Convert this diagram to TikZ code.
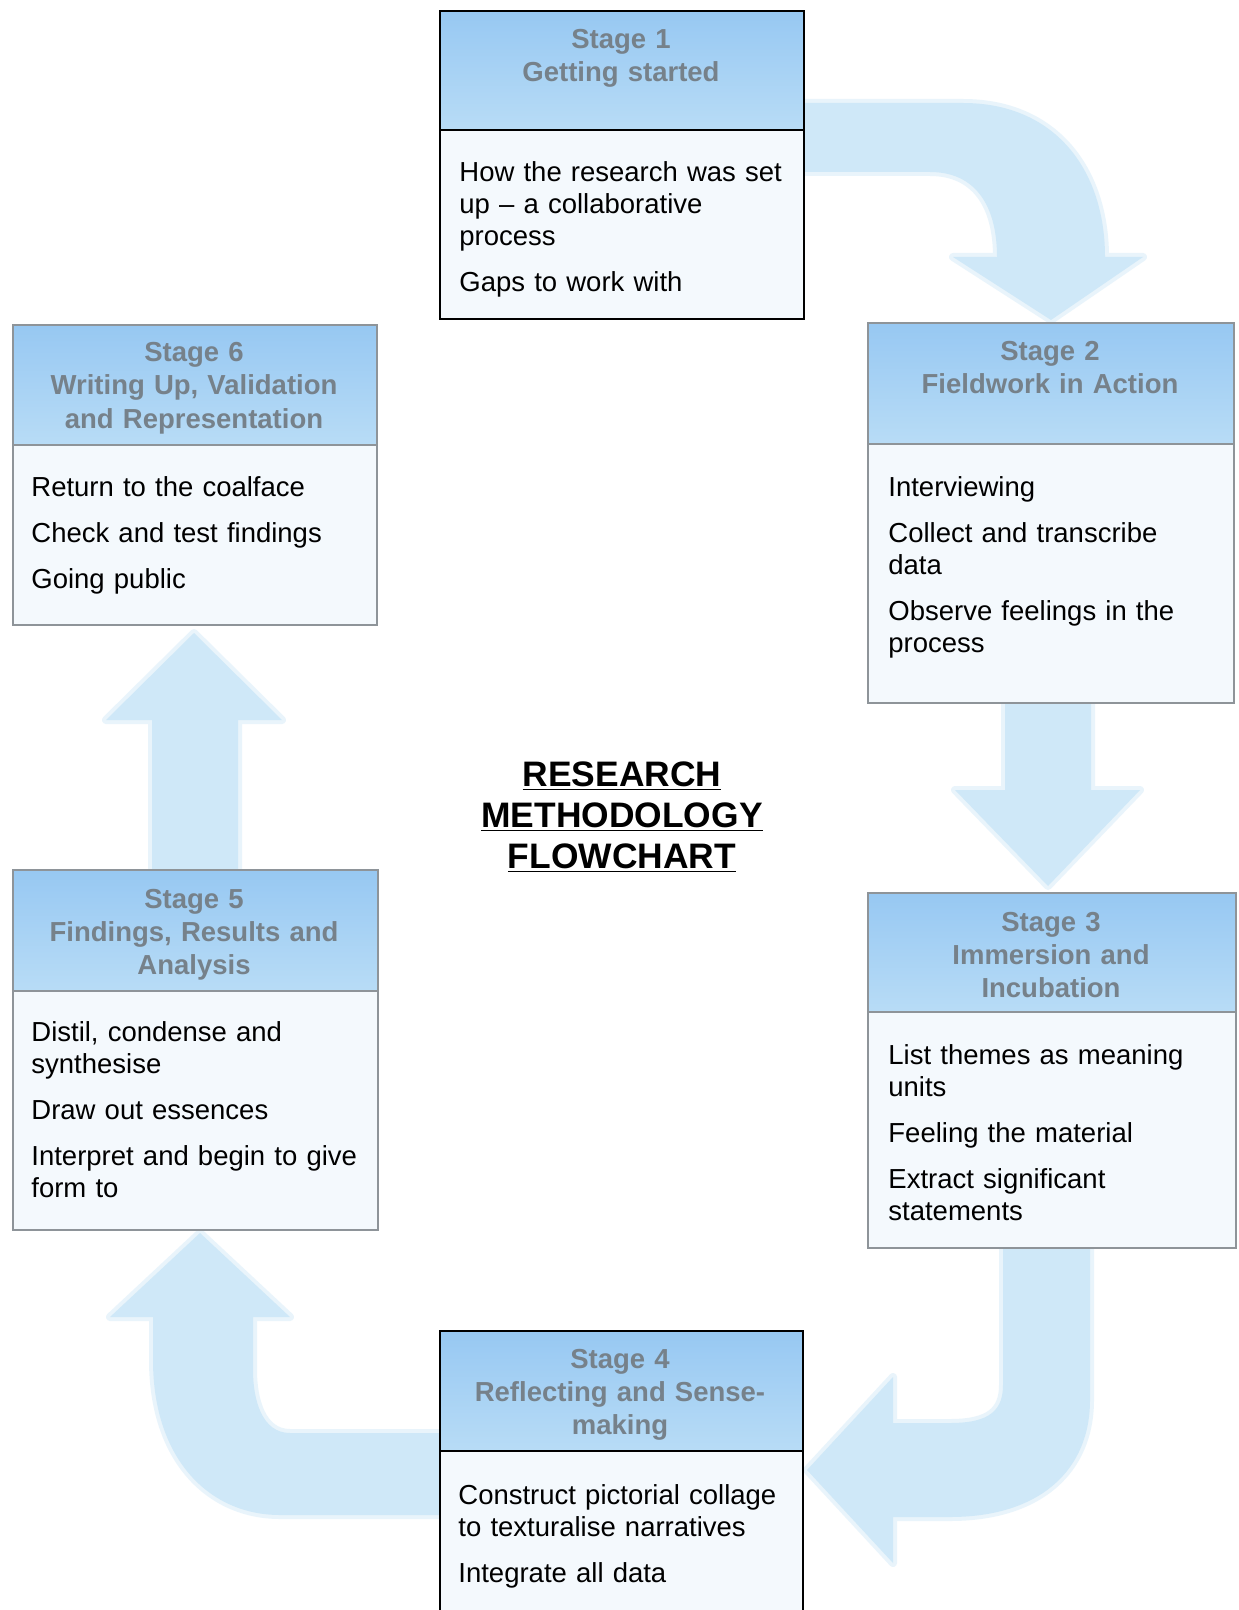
\documentclass[tikz,border=0pt]{standalone}
\usepackage{fontspec}
\setmainfont{Liberation Sans}
\definecolor{hdrtop}{HTML}{97C8F2}
\definecolor{hdrbot}{HTML}{B8DCF6}
\definecolor{hdrtext}{HTML}{76818A}
\definecolor{bodyfill}{HTML}{F4F9FD}
\definecolor{arrowfill}{HTML}{CFE8F8}
\definecolor{softborder}{HTML}{8E9499}
\begin{document}
\begin{tikzpicture}[x=0.5pt,y=-0.5pt,
  hdrbox/.style={anchor=north west, inner sep=0pt, top color=hdrtop, bottom color=hdrbot, draw=#1, line width=1.1pt},
  bodybox/.style={anchor=north west, inner sep=0pt, fill=bodyfill, draw=#1, line width=1.1pt},
  hdrtxt/.style={anchor=base, inner sep=0pt, text width=180pt, align=center, text=hdrtext, font=\bfseries\fontsize{13.75pt}{16.5pt}\selectfont},
  bodytxt/.style={anchor=base west, inner sep=0pt, text width=190pt, align=left, font=\fontsize{13.75pt}{16pt}\selectfont},
  arrowhalo/.style={draw=arrowfill, draw opacity=0.45, line width=4pt, line join=round},
  blockarrow/.style={fill=arrowfill, line join=round}
]
\useasboundingbox (0,0) rectangle (1238,1610);
\fill[white] (0,0) rectangle (1238,1610);

% block arrows (behind boxes)
\def\arrowA{(803,103) -- (963,103) .. controls (1055,103) and (1105,170) .. (1105,257)
  -- (1143,257) -- (1051,320) -- (953,257) -- (997,257)
  .. controls (997,205) and (975,172) .. (930,172) -- (803,172) -- cycle}
\def\arrowB{(1005,702) -- (1091,702) -- (1091,790) -- (1140,790) -- (1048,886)
  -- (955,790) -- (1005,790) -- cycle}
\def\arrowC{(1003,1247) -- (1003,1385) .. controls (1003,1410) and (990,1423) .. (950,1423)
  -- (893,1423) -- (893,1377) -- (807,1470) -- (893,1563) -- (893,1517) -- (950,1517)
  .. controls (1040,1517) and (1090,1470) .. (1090,1400) -- (1090,1247) -- cycle}
\def\arrowD{(439,1433) -- (290,1433) .. controls (262,1433) and (253,1400) .. (253,1370)
  -- (253,1317) -- (290,1317) -- (200,1233) -- (110,1317) -- (153,1317) -- (153,1360)
  .. controls (153,1460) and (210,1515) .. (280,1515) -- (439,1515) -- cycle}
\def\arrowE{(152,869) -- (152,720) -- (106,720) -- (194,633) -- (282,720)
  -- (238,720) -- (238,869) -- cycle}
\path[arrowhalo] \arrowA; \path[blockarrow] \arrowA;
\path[arrowhalo] \arrowB; \path[blockarrow] \arrowB;
\path[arrowhalo] \arrowC; \path[blockarrow] \arrowC;
\path[arrowhalo] \arrowD; \path[blockarrow] \arrowD;
\path[arrowhalo] \arrowE; \path[blockarrow] \arrowE;

% Stage 1
\node[hdrbox=black, minimum width=182pt, minimum height=59.5pt] (s1h) at (439,10) {};
\node[bodybox=black, minimum width=182pt, minimum height=94.5pt] (s1b) at (439,129) {};
\node[hdrtxt] (s1ht) at (621,49) {Stage 1\\Getting started};
\node[bodytxt] (s1bt) at (459,182) {How the research was set\\up -- a collaborative\\process\\[7pt]Gaps to work with};

% Stage 2
\node[hdrbox=softborder, minimum width=183pt, minimum height=60.5pt] (s2h) at (867,322) {};
\node[bodybox=softborder, minimum width=183pt, minimum height=129.5pt] (s2b) at (867,443) {};
\node[hdrtxt] (s2ht) at (1050,361) {Stage 2\\Fieldwork in Action};
\node[bodytxt] (s2bt) at (888,496) {Interviewing\\[7pt]Collect and transcribe\\data\\[7pt]Observe feelings in the\\process};

% Stage 3
\node[hdrbox=softborder, minimum width=184pt, minimum height=59.5pt] (s3h) at (867,892) {};
\node[bodybox=softborder, minimum width=184pt, minimum height=118pt] (s3b) at (867,1011) {};
\node[hdrtxt] (s3ht) at (1051,931) {Stage 3\\Immersion and\\Incubation};
\node[bodytxt] (s3bt) at (888,1064) {List themes as meaning\\units\\[7pt]Feeling the material\\[7pt]Extract significant\\statements};

% Stage 4
\node[hdrbox=black, minimum width=181.5pt, minimum height=60pt] (s4h) at (439,1330) {};
\node[bodybox=black, minimum width=181.5pt, minimum height=90pt] (s4b) at (439,1450) {};
\node[hdrtxt] (s4ht) at (620,1368) {Stage 4\\Reflecting and Sense-\\making};
\node[bodytxt] (s4bt) at (458,1504) {Construct pictorial collage\\to texturalise narratives\\[7pt]Integrate all data};

% Stage 5
\node[hdrbox=softborder, minimum width=182.5pt, minimum height=60.5pt] (s5h) at (12,869) {};
\node[bodybox=softborder, minimum width=182.5pt, minimum height=119.5pt] (s5b) at (12,990) {};
\node[hdrtxt] (s5ht) at (194,908) {Stage 5\\Findings, Results and\\Analysis};
\node[bodytxt] (s5bt) at (31,1041) {Distil, condense and\\synthesise\\[7pt]Draw out essences\\[7pt]Interpret and begin to give\\form to};

% Stage 6
\node[hdrbox=softborder, minimum width=182pt, minimum height=60pt] (s6h) at (12,324) {};
\node[bodybox=softborder, minimum width=182pt, minimum height=90pt] (s6b) at (12,444) {};
\node[hdrtxt] (s6ht) at (194,362) {Stage 6\\Writing Up, Validation\\and Representation};
\node[bodytxt] (s6bt) at (31,496) {Return to the coalface\\[7pt]Check and test findings\\[7pt]Going public};

% Title
\node[anchor=base, inner sep=0pt, text width=220pt, align=center, font=\bfseries\fontsize{17.7pt}{20.5pt}\selectfont] (title) at (622,786)
  {\underline{RESEARCH}\\\underline{METHODOLOGY}\\\underline{FLOWCHART}};
\end{tikzpicture}
\end{document}
